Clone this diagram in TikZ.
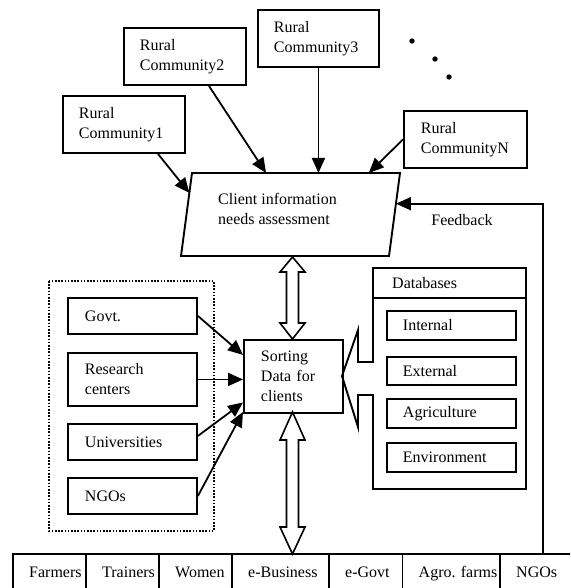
\documentclass[tikz,border=0pt]{standalone}
\usepackage{fontspec}
\setmainfont{Liberation Serif}
\usetikzlibrary{arrows.meta,calc}
\begin{document}
\begin{tikzpicture}[x=1pt,y=-1pt,
  every node/.style={font=\fontsize{16}{20}\selectfont},
  box/.style={draw, line width=1.9pt, align=left, anchor=north west, inner ysep=0pt},
  lbl/.style={inner sep=0pt},
  arr/.style={line width=1.8pt, -{Triangle[length=15pt,width=13pt]}},
  dbl/.style={draw, line width=1.6pt, fill=white, line join=miter},
  thick line/.style={line width=1.9pt}]
\useasboundingbox (0,0) rectangle (570,588);
\clip (0,0) rectangle (570,588);

% rural communities
\node[box, minimum width=122pt, minimum height=57pt, text width=90pt, inner xsep=16pt] (rc1) at (62,95) {Rural\\Community1};
\node[box, minimum width=122pt, minimum height=57pt, text width=90pt, inner xsep=16pt] (rc2) at (123,27) {Rural\\Community2};
\node[box, minimum width=121pt, minimum height=57pt, text width=89pt, inner xsep=16pt] (rc3) at (257,9) {Rural\\Community3};
\node[box, minimum width=123pt, minimum height=57pt, text width=89pt, inner xsep=17pt] (rcn) at (403,110) {Rural\\CommunityN};

% dots
\fill (412,41) circle (2.7pt);
\fill (435,59) circle (2.7pt);
\fill (449,77) circle (2.7pt);

% client information needs assessment (parallelogram)
\coordinate (pTL) at (192,173);
\coordinate (pTR) at (400,173);
\coordinate (pBR) at (389,256);
\coordinate (pBL) at (181,256);
\draw[thick line, line join=miter] (pTL) -- (pTR) -- (pBR) -- (pBL) -- cycle;
\node[lbl, align=left, anchor=north west] (cina) at (218,193) {Client information\\needs assessment};

\draw[arr] ([xshift=34pt]rc1.south) -- ($(pTL)!0.24!(pBL)$);
\draw[arr] ([xshift=24pt]rc2.south) -- ($(pTL)!0.356!(pTR)$);
\draw[arr] (rc3.south) -- (rc3.south |- pTL);
\draw[arr] (rcn.west) -- ($(pTL)!0.85!(pTR)$);

% feedback
\coordinate (fbs) at (543,554);
\draw[arr] (fbs) |- ($(pTR)!0.37!(pBR)$);
\node[lbl] (fb) at (462,220) {Feedback};

% sources
\draw[line width=1.7pt, dash pattern=on 1.6pt off 1.6pt] (49,281) rectangle (214,531);
\node[box, minimum width=129pt, minimum height=36pt, text width=95pt, inner xsep=17pt] (govt) at (67,297) {Govt.};
\node[box, minimum width=129pt, minimum height=53pt, text width=95pt, inner xsep=17pt] (res) at (67,352) {Research\\centers};
\node[box, minimum width=129pt, minimum height=36pt, text width=95pt, inner xsep=17pt] (univ) at (67,423) {Universities};
\node[box, minimum width=129pt, minimum height=36pt, text width=95pt, inner xsep=17pt] (ngo) at (67,477) {NGOs};

% sorting
\node[box, minimum width=99pt, minimum height=73pt, text width=65pt, inner xsep=17pt] (sort) at (243,339) {Sorting\\Data for\\clients};

\draw[arr] (govt.east) -- ([yshift=21.5pt]sort.west);
\draw[arr] (res.east) -- (res.east -| sort.west);
\draw[arr] ([yshift=6pt]univ.east) -- ([yshift=-26pt]sort.west);
\draw[arr] (ngo.east) -- ([yshift=2pt]sort.south west);

% double arrows
\draw[dbl] (292.5,257) -- (305,272) -- (298.5,272) -- (298.5,323) -- (305,323) -- (292.5,339)
  -- (280,323) -- (286.5,323) -- (286.5,272) -- (280,272) -- cycle;
\draw[dbl] (292.5,412) -- (305,440) -- (298.5,440) -- (298.5,527) -- (305,527) -- (292.5,554)
  -- (280,527) -- (286.5,527) -- (286.5,440) -- (280,440) -- cycle;

% databases
\draw[thick line, line join=miter] (373,362) -- (358,362) -- (358,330) -- (342,376) -- (358,427) -- (358,395)
  -- (373,395) -- (373,489) -- (526,489) -- (526,268) -- (373,268) -- cycle;
\draw[thick line] (373,298) -- (526,298);
\node[lbl, anchor=west] (dbt) at (392,283) {Databases};
\node[box, minimum width=129pt, minimum height=29pt, text width=97pt, inner xsep=16pt] (int) at (386,310) {Internal};
\node[box, minimum width=129pt, minimum height=28pt, text width=97pt, inner xsep=16pt] (ext) at (386,356) {External};
\node[box, minimum width=129pt, minimum height=29pt, text width=97pt, inner xsep=16pt] (agr) at (386,398) {Agriculture};
\node[box, minimum width=129pt, minimum height=29pt, text width=97pt, inner xsep=16pt] (env) at (386,442) {Environment};

% client groups row
\foreach \xa/\xb/\t/\n in {13/86/Farmers/c1, 86/159/Trainers/c2, 159/232/Women/c3, 232/329/e-Business/c4,
    329/402.5/e-Govt/c5, 402.5/500/Agro. farms/c6, 500/575/NGOs/c7} {
  \draw[thick line] (\xa,600) -- (\xa,554) -- (\xb,554) -- (\xb,600);
  \node[lbl, anchor=base west] (\n) at (\xa+16,577.5) {\t};
}
\end{tikzpicture}
\end{document}
